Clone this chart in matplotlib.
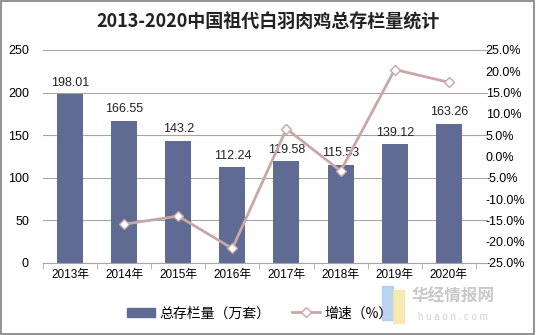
import matplotlib
matplotlib.use('Agg')
import matplotlib.pyplot as plt
from matplotlib.patches import Rectangle
from matplotlib.lines import Line2D

plt.rcParams['font.family'] = ['Liberation Sans', 'Noto Sans CJK SC', 'DejaVu Sans']
plt.rcParams['axes.unicode_minus'] = False

# 数据
years = ['2013年', '2014年', '2015年', '2016年', '2017年', '2018年', '2019年', '2020年']
stock = [198.01, 166.55, 143.2, 112.24, 119.58, 115.53, 139.12, 163.26]
growth_years = years[1:]
growth = [-15.9, -14.0, -21.6, 6.5, -3.4, 20.4, 17.4]

bar_color = '#5F6B93'
line_color = '#C9A7A8'
grid_color = '#A6A6A6'
cjk = ['Noto Sans CJK SC', 'DejaVu Sans']

fig = plt.figure(figsize=(5.36, 3.35), dpi=100)
ax = fig.add_axes([0.080, 0.215, 0.808, 0.636])

x = list(range(len(years)))
ax.bar(x, stock, width=0.48, color=bar_color, zorder=2)
for xi, v in zip(x, stock):
    ax.annotate(f'{v:g}', (xi, v), textcoords='offset points', xytext=(0, 4),
                ha='center', va='bottom', fontsize=9, color='#222222')

ax.set_xlim(-0.5, len(years) - 0.5)
ax.set_ylim(0, 250)
ax.set_yticks(range(0, 251, 50))
ax.yaxis.grid(True, color=grid_color, linewidth=0.8, zorder=0)
ax.set_axisbelow(True)
for s in ['top', 'right', 'left']:
    ax.spines[s].set_visible(False)
ax.spines['bottom'].set_color(grid_color)
ax.tick_params(axis='y', length=0, labelsize=9, pad=10)
ax.set_xticks(x)
ax.set_xticklabels(years, fontsize=8.5)
ax.tick_params(axis='x', length=0, pad=4)
ax.set_xticks([i + 0.5 for i in range(-1, len(years))], minor=True)
ax.tick_params(axis='x', which='minor', length=4, color=grid_color)

# 增速
ax2 = ax.twinx()
gx = x[1:]
ax2.plot(gx, growth, color=line_color, linewidth=2, marker='D', markersize=5,
         markerfacecolor='white', markeredgecolor=line_color, zorder=3)
ax2.set_ylim(-25, 25)
ax2.set_yticks(range(-25, 26, 5))
ax2.set_yticklabels([f'{v:.1f}%' for v in range(-25, 26, 5)], fontsize=9)
ax2.tick_params(axis='y', length=0, pad=7)
for s in ['top', 'right', 'left', 'bottom']:
    ax2.spines[s].set_visible(False)
for yv in range(-25, 26, 10):
    ax2.plot([1.0, 1.025], [yv, yv], transform=ax2.get_yaxis_transform(),
             color=grid_color, linewidth=0.8, clip_on=False)

fig.text(0.5, 0.935, '2013-2020中国祖代白羽肉鸡总存栏量统计', ha='center', va='center',
         fontsize=13, fontweight='bold', color='#222222', family=cjk)

handles = [Rectangle((0, 0), 1, 1, color=bar_color),
           Line2D([0], [0], color=line_color, linewidth=2, marker='D', markersize=5,
                  markerfacecolor='white', markeredgecolor=line_color)]
fig.legend(handles, ['总存栏量（万套）', '增速（%）'], loc='center', bbox_to_anchor=(0.485, 0.065),
           ncol=2, frameon=False, prop={'family': cjk, 'size': 10}, handlelength=2.0,
           columnspacing=1.6, handletextpad=0.3)

# 水印
fig.text(0.845, 0.115, '华经情报网', fontsize=12, color='#C8C8C8', fontweight='bold',
         ha='center', va='center', family=cjk)
fig.text(0.845, 0.055, 'h u a o n . c o m', fontsize=7, color='#D0D0D0', ha='center',
         va='center')
fig.patches.append(Rectangle((0.712, 0.045), 0.022, 0.1, transform=fig.transFigure,
                             color='#A9C8F0', alpha=0.8))
fig.patches.append(Rectangle((0.734, 0.035), 0.02, 0.1, transform=fig.transFigure,
                             color='#F5E6A0', alpha=0.8))

fig.patches.append(Rectangle((0.002, 0.003), 0.995, 0.994, transform=fig.transFigure,
                             fill=False, edgecolor='#7F7F7F', linewidth=1.2))

fig.savefig('out.png', dpi=100)
plt.close(fig)
